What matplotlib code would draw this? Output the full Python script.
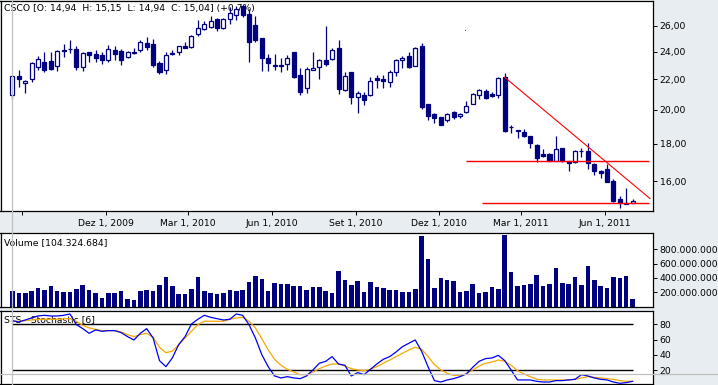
import matplotlib
matplotlib.use("Agg")
import matplotlib.pyplot as plt
import matplotlib.dates as mdates
import matplotlib.ticker as mticker
from matplotlib.lines import Line2D
from matplotlib.transforms import blended_transform_factory
import numpy as np
import pandas as pd

plt.rcParams["font.family"] = ["DejaVu Sans"]
plt.rcParams["font.size"] = 6.7

NAVY = "#000080"
BG = "#e8edf1"

# weekly CSCO bars
week_dates = pd.date_range("2009-08-21", periods=98, freq="7D")
opens = [20.97, 22.22, 21.76, 22.00, 22.89, 23.25, 23.33, 22.94, 24.13, 24.18,
         24.20, 22.87, 23.98, 23.81, 23.74, 23.37, 24.10, 24.03, 23.59, 23.98,
         24.08, 24.65, 24.58, 23.18, 22.63, 23.84, 23.98, 24.40, 24.33, 25.33,
         25.75, 25.93, 26.56, 25.80, 26.56, 26.90, 27.63, 26.99, 26.06, 25.03,
         23.52, 23.01, 23.01, 23.08, 23.93, 22.29, 21.44, 22.65, 22.89, 23.40,
         23.45, 24.25, 21.29, 22.53, 20.84, 20.93, 20.93, 22.07, 22.02, 21.81,
         22.51, 23.40, 23.66, 22.96, 24.43, 20.35, 19.73, 19.55, 19.36, 19.88,
         19.59, 19.86, 20.39, 20.97, 21.23, 20.99, 20.93, 22.14, 18.93, 18.78,
         18.66, 18.45, 17.91, 17.40, 17.44, 17.04, 17.76, 17.04, 16.98, 17.56,
         17.60, 16.91, 16.51, 16.62, 16.02, 15.13, 14.97, 14.94]
highs = [22.29, 22.67, 21.96, 23.20, 23.69, 23.93, 23.93, 24.10, 24.60, 24.88,
         24.43, 24.00, 24.00, 24.08, 23.93, 24.48, 24.43, 24.18, 24.03, 24.25,
         24.85, 25.08, 24.93, 23.33, 24.00, 24.08, 24.45, 24.75, 25.28, 26.51,
         26.42, 26.85, 26.65, 26.65, 27.55, 27.69, 27.72, 27.44, 26.79, 25.03,
         23.83, 23.83, 23.52, 23.71, 23.98, 22.80, 22.84, 23.98, 23.47, 26.03,
         24.30, 24.88, 22.53, 22.53, 21.20, 21.12, 22.17, 22.31, 22.29, 22.63,
         23.45, 23.64, 23.98, 24.38, 24.67, 20.35, 19.79, 19.55, 19.81, 19.94,
         19.79, 20.54, 21.08, 21.38, 21.33, 21.18, 22.19, 22.41, 19.05, 18.78,
         18.82, 18.45, 17.96, 17.71, 17.49, 18.41, 17.78, 17.04, 17.65, 17.76,
         18.06, 16.95, 16.55, 16.91, 16.13, 15.28, 15.65, 15.15]
lows = [20.69, 21.46, 21.08, 21.81, 22.63, 22.53, 22.63, 22.55, 23.59, 23.88,
        22.63, 22.55, 23.20, 23.25, 23.08, 23.20, 23.40, 23.04, 23.52, 23.83,
        24.00, 24.08, 22.89, 22.34, 22.34, 23.71, 23.71, 24.25, 24.28, 25.18,
        25.68, 25.85, 25.58, 25.73, 26.14, 26.48, 26.70, 23.23, 24.70, 22.60,
        22.60, 22.67, 22.53, 22.67, 22.12, 20.95, 21.10, 22.65, 22.05, 22.94,
        23.40, 21.04, 21.20, 20.37, 19.83, 20.28, 20.88, 21.40, 21.42, 21.51,
        22.26, 22.77, 22.82, 22.92, 20.04, 19.38, 19.20, 19.05, 19.28, 19.46,
        19.52, 19.83, 20.35, 20.67, 20.69, 20.80, 20.75, 18.66, 18.58, 18.29,
        18.35, 17.76, 16.98, 17.24, 17.02, 17.04, 16.98, 16.53, 16.93, 17.25,
        16.64, 16.31, 16.16, 15.95, 14.98, 14.74, 14.89, 14.94]
closes = [22.22, 22.00, 21.89, 23.16, 23.45, 22.63, 22.70, 24.05, 24.03, 24.22,
          22.84, 23.90, 23.74, 23.50, 23.40, 24.18, 23.78, 23.35, 23.98, 23.86,
          24.70, 24.38, 22.99, 22.51, 23.76, 23.88, 24.40, 24.30, 25.23, 25.83,
          26.17, 26.39, 25.80, 26.59, 27.04, 27.44, 26.90, 24.70, 24.90, 23.50,
          23.16, 22.92, 22.92, 23.52, 22.19, 21.16, 22.75, 22.82, 23.40, 23.08,
          24.13, 21.36, 22.22, 20.84, 21.10, 20.63, 21.87, 21.96, 21.91, 22.53,
          23.40, 23.54, 22.84, 24.25, 20.16, 19.63, 19.52, 19.09, 19.73, 19.57,
          19.73, 20.26, 21.03, 21.25, 20.75, 20.88, 22.10, 18.72, 18.98, 18.72,
          18.43, 18.02, 17.20, 17.29, 17.04, 17.67, 17.05, 16.93, 17.58, 17.60,
          16.93, 16.53, 16.44, 15.98, 15.03, 14.94, 14.89, 15.04]
volumes = [216, 188, 188, 216, 254, 230, 286, 216, 202, 202,
           240, 296, 230, 188, 118, 193, 193, 223, 100, 90,
           216, 230, 216, 300, 412, 286, 174, 174, 244, 412,
           216, 188, 174, 188, 230, 220, 230, 342, 426, 384,
           216, 328, 314, 314, 286, 286, 230, 272, 272, 216,
           188, 496, 370, 300, 356, 202, 342, 272, 258, 230,
           230, 202, 202, 244, 984, 663, 258, 398, 370, 356,
           202, 216, 314, 188, 202, 272, 244, 998, 482, 286,
           300, 314, 440, 286, 314, 538, 328, 314, 412, 300,
           566, 370, 286, 258, 412, 398, 426, 104.324684]  # millions
stoch_k = [84.7, 83.0, 85.6, 88.2, 90.8, 91.7, 90.8, 90.8, 91.7, 93.4,
           79.5, 74.3, 68.2, 72.6, 70.8, 71.7, 71.7, 69.1, 63.9, 59.5,
           68.2, 74.3, 62.1, 32.6, 24.7, 36.0, 53.4, 63.9, 80.4, 86.5,
           91.7, 89.1, 87.3, 85.6, 86.5, 93.4, 91.7, 79.5, 62.1, 40.4,
           24.7, 12.6, 10.0, 11.7, 10.0, 9.1, 12.6, 20.4, 29.1, 31.7,
           37.8, 28.2, 26.5, 12.6, 16.9, 14.3, 21.3, 28.2, 34.3, 37.8,
           43.9, 50.8, 55.2, 59.5, 44.8, 24.7, 6.5, 4.7, 7.4, 9.1,
           11.7, 15.2, 23.9, 31.7, 35.2, 36.0, 39.5, 32.6, 20.4, 7.4,
           7.4, 7.4, 5.6, 4.7, 4.7, 6.5, 6.5, 7.4, 8.2, 14.3,
           12.6, 10.0, 8.2, 7.4, 4.7, 3.0, 3.9, 5.6]
stoch_d = [83.9, 83.9, 84.7, 85.6, 86.5, 86.5, 86.5, 86.5, 87.3, 87.3,
           83.9, 78.6, 75.2, 73.4, 71.7, 71.7, 71.7, 70.0, 66.5, 63.9,
           66.5, 68.2, 63.0, 50.0, 43.0, 44.8, 53.4, 62.1, 70.8, 79.5,
           83.9, 83.9, 83.9, 83.9, 86.5, 88.2, 89.1, 83.9, 75.2, 61.3,
           46.5, 34.3, 26.5, 21.3, 17.8, 14.3, 14.3, 17.8, 22.2, 25.6,
           28.2, 28.2, 25.6, 22.2, 20.4, 19.5, 21.3, 24.7, 29.1, 33.4,
           37.8, 42.1, 46.5, 50.0, 47.4, 38.0, 27.4, 20.4, 16.1, 13.4,
           13.4, 15.2, 20.4, 25.6, 29.1, 30.8, 33.4, 31.7, 26.5, 19.5,
           15.2, 11.7, 8.2, 7.4, 7.4, 7.4, 7.4, 7.4, 8.2, 10.0,
           11.7, 10.8, 10.0, 9.1, 8.2, 6.5, 5.6, 5.6]

title = "CSCO [O: 14,94  H: 15,15  L: 14,94  C: 15,04] (+0,7%)"
vol_label = "Volume [104.324.684]"
sto_label = "STS - Stochastic [6]"
tick_dates = ["2009-09-01", "2009-12-01", "2010-03-01", "2010-06-01", "2010-09-01",
              "2010-12-01", "2011-03-01", "2011-06-01"]
tick_labels = ["", "Dez 1, 2009", "Mar 1, 2010", "Jun 1, 2010", "Set 1, 2010",
               "Dez 1, 2010", "Mar 1, 2011", "Jun 1, 2011"]
price_ticks = [16, 18, 20, 22, 24, 26]

# drawn lines (trend line and two horizontal levels)
trend = (("2011-02-11", 22.14), ("2011-07-20", 15.16))
level_hi = (17.03, "2010-12-31", "2011-07-19")
level_lo = (14.95, "2011-01-17", "2011-07-19")
cursor_value = 15.0

x = mdates.date2num(week_dates)
o, h, l, c = map(np.array, (opens, highs, lows, closes))
xlim = (mdates.date2num(pd.Timestamp("2009-08-07 22:00")), mdates.date2num(pd.Timestamp("2011-07-23")))

W, H = 718, 385
fig = plt.figure(figsize=(W / 100, H / 100), dpi=100, facecolor=BG)


def px_axes(left, top, right, bottom):
    return fig.add_axes([left / W, 1 - bottom / H, (right - left) / W, (bottom - top) / H])


ax = px_axes(0.5, 0.5, 652.7, 211)
axv = px_axes(0.5, 233.3, 652.7, 306.5)
axs = px_axes(0.5, 311, 652.7, 384)

for a in (ax, axv, axs):
    a.set_facecolor("white")
    a.set_xlim(*xlim)
    for s in a.spines.values():
        s.set_color("black")
        s.set_linewidth(0.9)
    a.yaxis.tick_right()
    a.tick_params(axis="y", direction="out", length=3, width=0.7, pad=2, labelsize=6.7)

# price panel
up = c >= o
lo_b = np.minimum(o, c)
hi_b = np.maximum(o, c)
ax.vlines(x, l, h, color=NAVY, lw=0.9, zorder=2)
ax.bar(x, np.maximum(hi_b - lo_b, 0.01), bottom=lo_b, width=4.4,
       color=np.where(up, "white", NAVY), edgecolor=NAVY, linewidth=0.9, zorder=3)
ax.set_yscale("log")
ax.set_ylim(14.58, 28.15)
ax.yaxis.set_major_locator(mticker.FixedLocator(price_ticks))
ax.yaxis.set_minor_locator(mticker.NullLocator())
ax.yaxis.set_major_formatter(mticker.FuncFormatter(lambda v, p: f"{v:.2f}".replace(".", ",")))
ax.set_xticks(mdates.date2num(pd.to_datetime(tick_dates)))
ax.set_xticklabels(tick_labels)
ax.tick_params(axis="x", direction="out", length=3, width=0.7, pad=2.5, labelsize=6.7)

(t0, p0), (t1, p1) = trend
ax.plot(mdates.date2num(pd.to_datetime([t0, t1])), [p0, p1], color="red", lw=0.8, zorder=4)
for lev, a0, a1 in (level_hi, level_lo):
    ax.hlines(lev, mdates.date2num(pd.Timestamp(a0)), mdates.date2num(pd.Timestamp(a1)),
              color="red", lw=1.0, zorder=4)
ax.plot(mdates.date2num(pd.Timestamp("2010-12-29")), 25.64, "s", color="red", ms=0.8, mew=0)
ax.text(0.005, 0.985, title, transform=ax.transAxes, ha="left", va="top", zorder=0.5)

# volume panel
axv.bar(x, np.array(volumes) * 1e6, width=5.0, color=NAVY, zorder=2)
axv.set_ylim(0, 1.025e9)
axv.set_yticks([2e8, 4e8, 6e8, 8e8])
axv.yaxis.set_major_formatter(mticker.FuncFormatter(lambda v, p: f"{int(v):,}".replace(",", ".")))
axv.tick_params(axis="x", bottom=False, labelbottom=False)
axv.text(0.005, 0.94, vol_label, transform=axv.transAxes, ha="left", va="top")

# stochastic panel
axs.hlines([80, 20], x[0], x[-1], color="black", lw=1.0, zorder=1)
axs.plot(x, stoch_d, color="#f5a800", lw=0.9, zorder=2)
axs.plot(x, stoch_k, color="#0000ee", lw=0.9, zorder=3)
axs.set_ylim(2.1, 97.3)
axs.set_yticks([20, 40, 60, 80])
axs.tick_params(axis="x", bottom=False, labelbottom=False)
axs.text(0.005, 0.94, sto_label, transform=axs.transAxes, ha="left", va="top", zorder=0.5)

# crosshair cursor
fx = fig.transFigure.inverted().transform(ax.transData.transform((x[0], 20)))[0]
fig.add_artist(Line2D([fx, fx], [0, 1], transform=fig.transFigure, color="#c0c0c0", lw=0.9, zorder=5))
fig.add_artist(Line2D([0, 1], [cursor_value, cursor_value],
                      transform=blended_transform_factory(fig.transFigure, axs.transData),
                      color="#c0c0c0", lw=0.9, zorder=5))

fig.savefig("out.png", dpi=100, facecolor=BG)
